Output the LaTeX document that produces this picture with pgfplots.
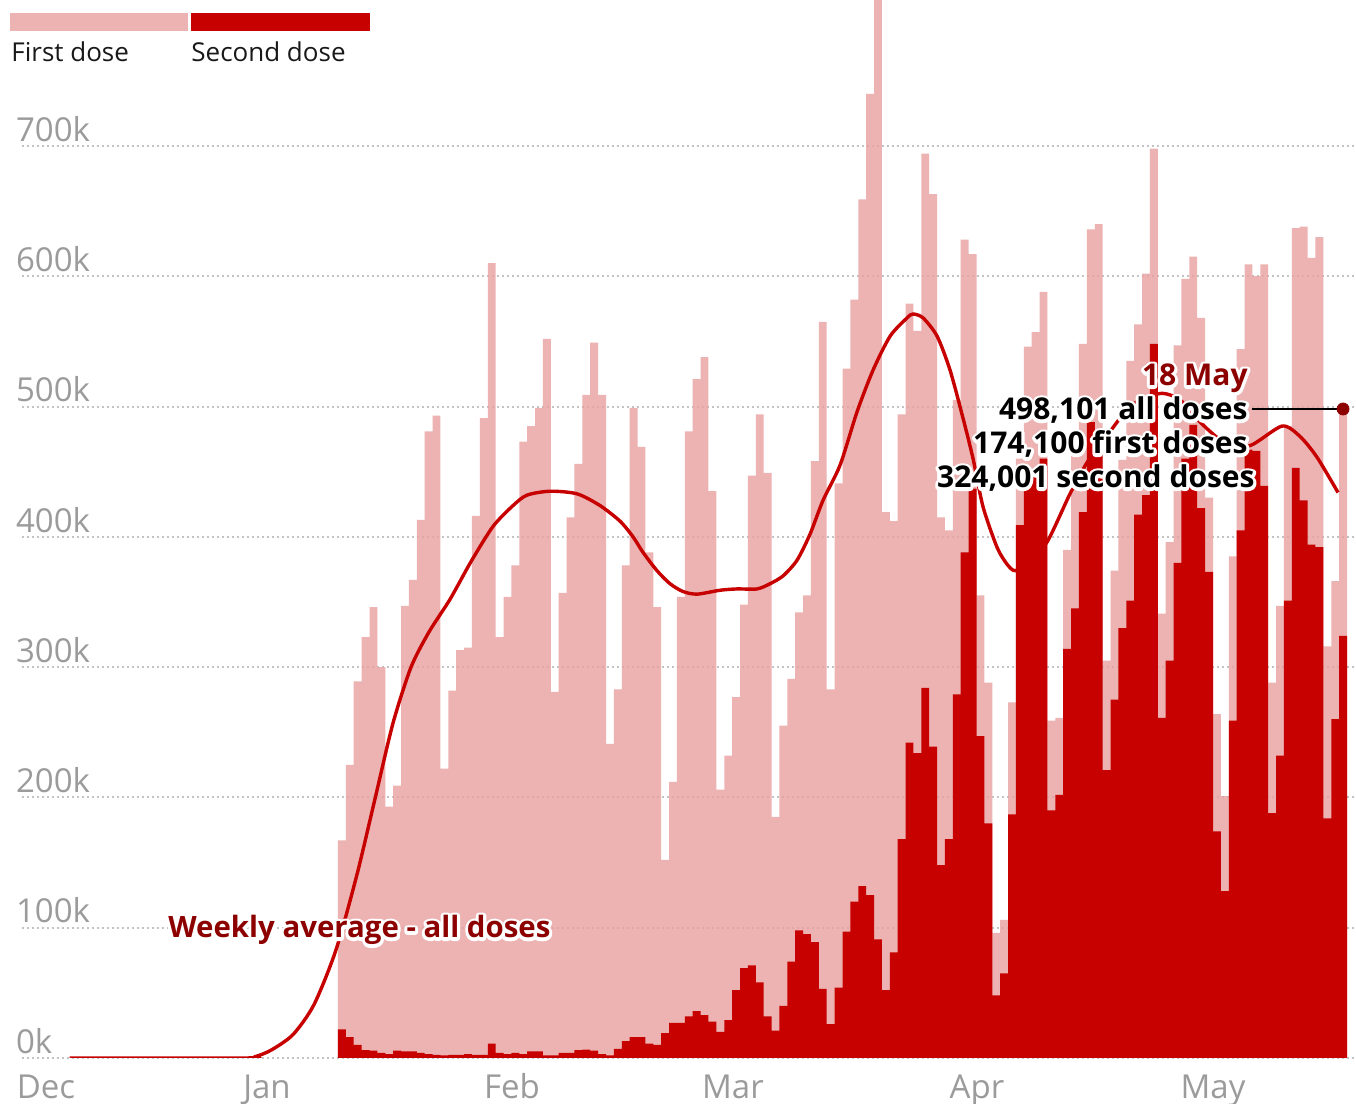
\documentclass[border=0pt]{standalone}
\usepackage{fontspec}
\setmainfont{Open Sans}
\usepackage{pgfplots}
\pgfplotsset{compat=1.18}
\usepackage{pgfplotstable}
\definecolor{pinkbar}{RGB}{232,160,160}
\definecolor{pinklegend}{RGB}{237,179,179}
\definecolor{darkbar}{RGB}{199,0,0}
\definecolor{annot}{RGB}{140,0,0}
\definecolor{tickgray}{RGB}{155,155,155}
\definecolor{gridgray}{RGB}{195,195,195}

\pgfplotstableread{
x total second
9.5 167 22
10.5 225 16
11.5 289 10
12.5 323 6
13.5 346 5.6
14.5 300 4
15.5 193 3
16.5 209 5.6
17.5 347 5
18.5 367 5
19.5 413 4
20.5 481 3
21.5 493 2.4
22.5 222 2
23.5 282 2.4
24.5 313 2.4
25.5 315 3
26.5 416 2.4
27.5 491 2.4
28.5 610 11
29.5 323 4
30.5 354 3
31.5 378 4
32.5 473 3
33.5 485 5
34.5 499 5
35.5 552 2
36.5 281 2
37.5 357 4
38.5 415 4
39.5 456 6
40.5 509 6.4
41.5 549 5.6
42.5 509 3
43.5 241 2
44.5 283 7
45.5 378 13
46.5 499 16
47.5 469 16
48.5 388 11
49.5 346 10
50.5 152 19
51.5 212 27
52.5 354 27
53.5 481 32
54.5 521 36
55.5 538 33
56.5 435 28
57.5 206 20
58.5 232 29
59.5 277 52
60.5 348 69
61.5 447 71
62.5 494 58
63.5 449 32
64.5 185 21
65.5 255 40
66.5 291 74
67.5 342 98
68.5 355 95
69.5 458 89
70.5 565 53
71.5 283 26
72.5 441 54
73.5 529 97
74.5 582 120
75.5 659 132
76.5 740 125
77.5 850 91
78.5 419 52
79.5 412 81
80.5 494 168
81.5 579 242
82.5 558 234
83.5 694 284
84.5 663 239
85.5 415 148
86.5 405 168
87.5 505 279
88.5 628 388
89.5 617 437
90.5 355 247
91.5 288 180
92.5 96 48
93.5 106 65
94.5 273 187
95.5 460 409
96.5 546 440
97.5 557 450
98.5 588 460
99.5 259 190
100.5 261 202
101.5 390 314
102.5 462 345
103.5 548 419
104.5 636 488
105.5 640 470
106.5 305 221
107.5 374 275
108.5 459 330
109.5 535 351
110.5 563 417
111.5 602 432
112.5 698 548
113.5 341 261
114.5 396 305
115.5 547 380
116.5 598 460
117.5 615 486
118.5 568 422
119.5 430 373
120.5 264 174
121.5 201 128
122.5 385 259
123.5 544 405
124.5 609 467
125.5 600 466
126.5 609 439
127.5 288 188
128.5 347 232
129.5 485 351
130.5 637 453
131.5 638 428
132.5 614 394
133.5 630 392
134.5 316 184
135.5 366 260
136.5 498.101 324.001
}\doses

% white outline drawn by stroking the glyphs, then the text itself on top
\newcommand{\halotext}[5]{%
  \node[anchor=#2, inner sep=0pt, text=white, font=#3] at (#1)
    {\special{pdf:literal direct 1 Tr 3 w 1 J 1 j}#5};
  \node[anchor=#2, inner sep=0pt, text=#4, font=#3] at (#1) {#5};}

\begin{document}
\begin{tikzpicture}[x=1pt,y=1pt]
\useasboundingbox (0,0) rectangle (678,552);
\begin{axis}[
  at={(10.85pt,23pt)}, anchor=south west,
  scale only axis, width=667.15pt, height=529pt,
  xmin=-31.12, xmax=138.14, ymin=0, ymax=812,
  axis line style={draw=none}, major tick length=0pt,
  ytick={0,100,...,700},
  yticklabels={0k,100k,200k,300k,400k,500k,600k,700k},
  yticklabel style={anchor=south west, inner sep=0pt, xshift=-3pt, yshift=2pt,
    text=tickgray, font=\fontsize{16.5}{18}\selectfont},
  xtick={-28.04,0,31.08,59.1,90.06,120},
  xticklabels={Dec,Jan,Feb,Mar,Apr,May},
  xticklabel style={anchor=base, inner sep=0pt, yshift=-20.5pt,
    text=tickgray, font=\fontsize{16.5}{18}\selectfont},
  ymajorgrids,
  grid style={gridgray, line width=1pt, dash pattern=on 1pt off 1.5pt},
]
\addplot[ybar, bar width=1, bar shift=0pt, fill=pinkbar, fill opacity=0.8, draw=none]
  table[x=x, y=total]{\doses};
\addplot[ybar, bar width=1, bar shift=0pt, fill=darkbar, draw=none]
  table[x=x, y=second]{\doses};
\addplot[darkbar, line width=1.7pt, smooth, tension=0.45] coordinates {
(-25.04,0) (-3.04,0) (-1.52,1) (0.51,6) (3.30,18) (5.96,41) (8.75,83) (11.42,141)
(13.70,199) (15.98,257) (18.27,300) (20.55,327) (23.21,352) (25.88,381) (28.67,408)
(31.21,424) (32.98,432) (35.90,435) (39.33,433) (42.24,424) (44.78,412) (46.43,400)
(47.70,388) (49.47,374) (51.12,364) (52.77,358) (54.55,356) (57.47,359) (59.62,360)
(62.16,360) (63.81,364) (65.46,370) (67.23,382) (68.88,402) (70.53,428) (72.69,455)
(74.85,496) (76.88,528) (79.04,554) (81.19,568) (81.95,571) (83.22,568) (85.00,554)
(86.64,528) (88.29,491) (89.56,460) (90.83,423) (92.60,392) (93.87,379) (94.89,374)
(96.5,380) (98.95,396) (101.86,433) (104.02,457) (105.67,470) (109.48,500) (113.28,510)
(115.82,505) (118.36,488) (121.53,472) (124.70,470) (128.76,485) (131.04,477)
(133.20,461) (135.86,434)
};
\draw[black, line width=0.6pt] (axis cs:124.95,498.101) -- (axis cs:136.5,498.101);
\addplot[only marks, mark=*, mark size=3pt, color=annot] coordinates {(136.5,498.101)};
\end{axis}
% legend
\fill[pinklegend] (5,536.5) rectangle (94,545.5);
\fill[darkbar] (95.5,536.5) rectangle (185,545.5);
\node[anchor=base west, inner sep=0pt, font=\fontsize{13}{15}\selectfont, text=black!90] at (5.5,521) {First dose};
\node[anchor=base west, inner sep=0pt, font=\fontsize{13}{15}\selectfont, text=black!90] at (95.5,521) {Second dose};
% annotations
\halotext{84,83}{base west}{\fontsize{14.7}{18}\bfseries}{annot}{Weekly average - all doses}
\halotext{624,359}{base east}{\fontsize{15}{18}\bfseries}{annot}{18 May}
\halotext{624,342}{base east}{\fontsize{15}{18}\bfseries}{black}{498,101 all doses}
\halotext{624,325}{base east}{\fontsize{15}{18}\bfseries}{black}{174,100 first doses}
\halotext{627.5,308}{base east}{\fontsize{15}{18}\bfseries}{black}{324,001 second doses}
\end{tikzpicture}
\end{document}
